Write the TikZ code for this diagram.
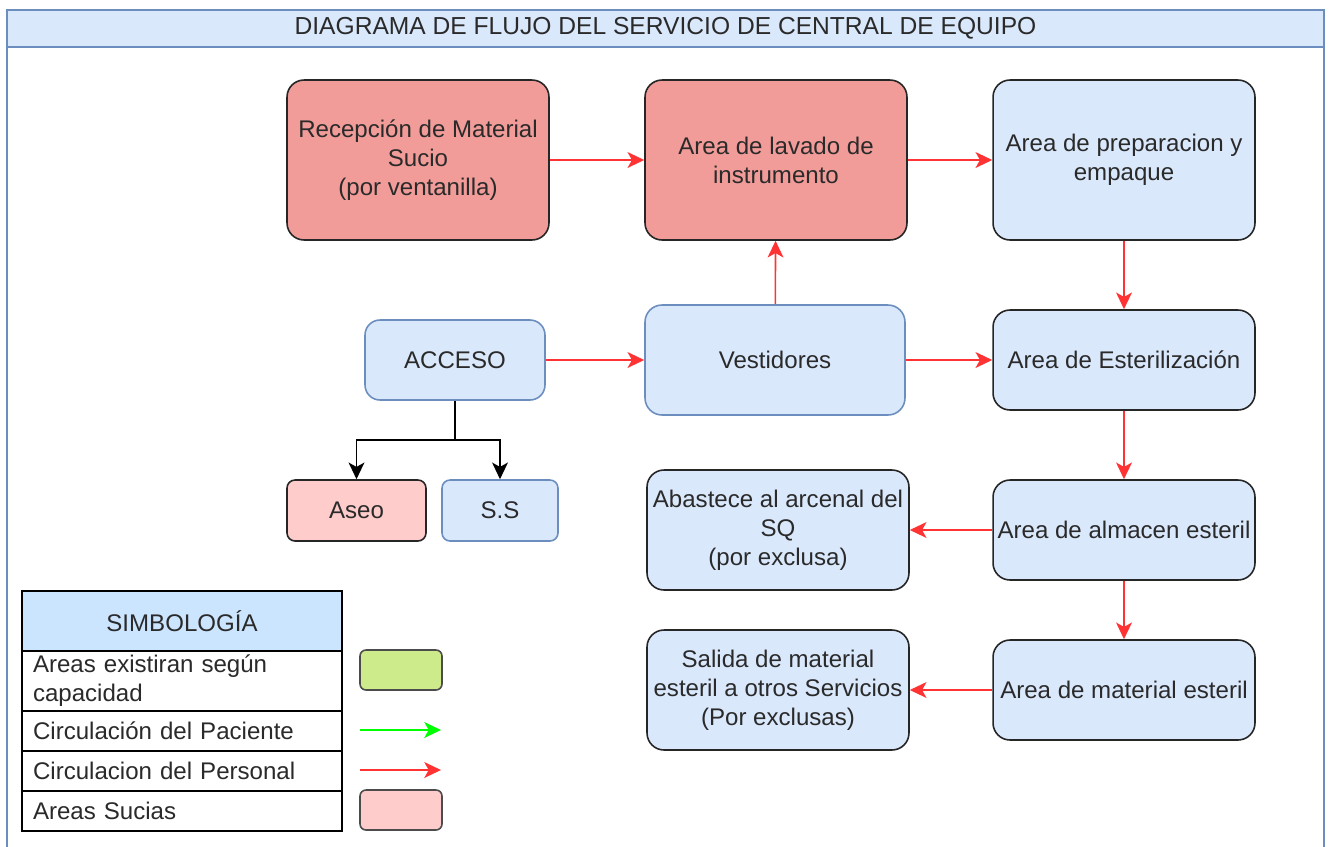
\documentclass[tikz,border=0pt]{standalone}
\usepackage{fontspec}
\setmainfont{Liberation Sans}
\usepackage{xcolor}
\usetikzlibrary{arrows.meta}

\definecolor{sucio}{HTML}{F19C99}
\definecolor{sucioclaro}{HTML}{FFCCCC}
\definecolor{limpio}{HTML}{DAE8FC}
\definecolor{bordeazul}{HTML}{6C8EBF}
\definecolor{cabecera}{HTML}{CCE5FF}
\definecolor{verdecaja}{HTML}{CDEB8B}
\definecolor{flechared}{HTML}{FF3333}
\definecolor{flechaverde}{HTML}{00FF00}
\definecolor{texto}{HTML}{2A2A2A}

\begin{document}
\begin{tikzpicture}[x=0.02cm, y=-0.02cm,
    area/.style={draw=black!85, line width=0.9pt, rounded corners=0.34cm, align=center,
        font=\fontsize{13.7}{16.5}\selectfont, text=texto, inner sep=2pt},
    punta/.style={-{Stealth[length=9.5pt, width=9pt, inset=2.5pt]}},
    personal/.style={punta, flechared, line width=0.9pt},
    symrow/.style={draw=black, line width=0.9pt, minimum width=6.4cm, text width=5.96cm, align=left,
        font=\fontsize{13.7}{16.5}\selectfont, text=texto, inner sep=0pt, anchor=north}]
    \useasboundingbox (0,0) rectangle (1331,846);
    \clip (0,0) rectangle (1331,846);

    % Frame and title
    \draw[bordeazul, line width=0.9pt, fill=white] (7,10) rectangle (1324,870);
    \node[draw=bordeazul, line width=0.9pt, fill=limpio, minimum width=26.34cm, minimum height=0.74cm,
        font=\fontsize{14}{15}\selectfont, text=texto] (titulo) at (665.5,28.5)
        {DIAGRAMA DE FLUJO DEL SERVICIO DE CENTRAL DE EQUIPO};

    % Areas
    \node[area, fill=sucio, minimum width=5.24cm, minimum height=3.2cm] (recepcion) at (418,160)
        {Recepción de Material\\Sucio\\(por ventanilla)};
    \node[area, fill=sucio, minimum width=5.24cm, minimum height=3.2cm] (lavado) at (776,160)
        {Area de lavado de\\instrumento};
    \node[area, fill=limpio, minimum width=5.24cm, minimum height=3.2cm] (preparacion) at (1124,160)
        {Area de preparacion y\\empaque};
    \node[area, fill=limpio, draw=bordeazul, rounded corners=0.3cm, minimum width=3.6cm, minimum height=1.6cm] (acceso) at (455,360)
        {ACCESO};
    \node[area, fill=limpio, draw=bordeazul, minimum width=5.2cm, minimum height=2.2cm] (vestidores) at (775,360)
        {Vestidores};
    \node[area, fill=limpio, minimum width=5.24cm, minimum height=2cm] (esterilizacion) at (1124,360)
        {Area de Esterilización};
    \node[area, fill=sucioclaro, rounded corners=0.16cm, minimum width=2.78cm, minimum height=1.22cm] (aseo) at (356.5,510.5)
        {Aseo};
    \node[area, fill=limpio, draw=bordeazul, rounded corners=0.16cm, minimum width=2.32cm, minimum height=1.22cm] (ss) at (500,510.5)
        {S.S};
    \node[area, fill=limpio, minimum width=5.24cm, minimum height=2.4cm] (abastece) at (778,530)
        {Abastece al arcenal del\\SQ\\(por exclusa)};
    \node[area, fill=limpio, minimum width=5.24cm, minimum height=2cm] (almacen) at (1124,530)
        {Area de almacen esteril};
    \node[area, fill=limpio, minimum width=5.24cm, minimum height=2.4cm] (salida) at (778,690)
        {Salida de material\\esteril a otros Servicios\\(Por exclusas)};
    \node[area, fill=limpio, minimum width=5.24cm, minimum height=2cm] (material) at (1124,690)
        {Area de material esteril};

    % Flow of personnel
    \draw[personal] (recepcion) -- (lavado);
    \draw[personal] (lavado) -- (preparacion);
    \draw[personal] (vestidores) -- (lavado);
    \draw[personal] (acceso) -- (vestidores);
    \draw[personal] (vestidores) -- (esterilizacion);
    \draw[personal] (preparacion) -- (esterilizacion);
    \draw[personal] (esterilizacion) -- (almacen);
    \draw[personal] (almacen) -- (abastece);
    \draw[personal] (almacen) -- (material);
    \draw[personal] (material) -- (salida);

    % Access branches
    \coordinate (rama) at (455,440);
    \draw[punta, line width=0.9pt] (acceso.south) -- (rama) -| (aseo.north);
    \draw[punta, line width=0.9pt] (rama) -| (ss.north);

    % Legend
    \node[symrow, fill=cabecera, minimum height=1.2cm, align=center] (simbologia) at (182,590)
        {SIMBOLOGÍA};
    \node[symrow, minimum height=1.2cm] (sym_areas) at (182,650) {Areas existiran según\\capacidad};
    \node[symrow, minimum height=0.8cm] (sym_paciente) at (182,710) {Circulación del Paciente};
    \node[symrow, minimum height=0.8cm] (sym_personal) at (182,750) {Circulacion del Personal};
    \node[symrow, minimum height=0.8cm] (sym_sucias) at (182,790) {Areas Sucias};

    \node[draw=black!70, line width=0.9pt, fill=verdecaja, rounded corners=0.12cm,
        minimum width=1.64cm, minimum height=0.8cm] (caja_verde) at (401,670) {};
    \node[draw=black!70, line width=0.9pt, fill=sucioclaro, rounded corners=0.12cm,
        minimum width=1.64cm, minimum height=0.8cm] (caja_roja) at (401,810) {};
    \coordinate (pac_a) at (360,730);
    \coordinate (pac_b) at (441,730);
    \coordinate (per_a) at (360,770);
    \coordinate (per_b) at (441,770);
    \draw[personal, flechaverde] (pac_a) -- (pac_b);
    \draw[personal] (per_a) -- (per_b);
\end{tikzpicture}
\end{document}
